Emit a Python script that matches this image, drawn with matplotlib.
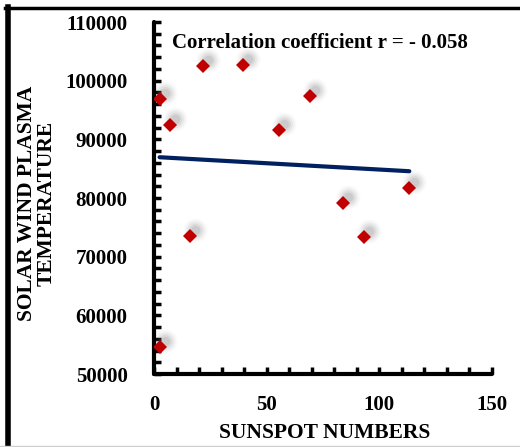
import numpy as np
import matplotlib.pyplot as plt
from matplotlib import transforms
from matplotlib.lines import Line2D
from matplotlib.ticker import MultipleLocator

# sunspot numbers vs solar wind plasma temperature
sunspot = [2.5, 7.2, 21.6, 39.6, 55.3, 69.4, 113.3, 84.0, 93.3, 16.1, 2.8]
temperature = [96900, 92500, 102560, 102730, 91590, 97330, 81760, 79200, 73350, 73580, 54650]
r_text = "Correlation coefficient r = - 0.058"

plt.rcParams['font.family'] = ['Liberation Serif', 'DejaVu Serif']
plt.rcParams['font.weight'] = 'bold'

fig = plt.figure(figsize=(5.2, 4.47), dpi=100)
ax = fig.add_axes([154 / 520, 73 / 447, 338 / 520, 352 / 447])

x = np.array(sunspot)
y = np.array(temperature)

# soft grey drop shadow behind each marker
shadow = transforms.offset_copy(ax.transData, fig=fig, x=5, y=6, units='dots')
for s, a in zip([300, 220, 150, 90, 45], [0.04, 0.06, 0.09, 0.12, 0.16]):
    ax.scatter(x, y, s=s, marker='o', color='#808080', alpha=a, linewidths=0,
               transform=shadow, zorder=2)

# linear fit over the data range
k, b = np.polyfit(x, y, 1)
xs = np.array([x.min(), x.max()])
ax.plot(xs, k * xs + b, color='#002060', lw=3, solid_capstyle='round', zorder=3)

ax.plot(x, y, 'D', color='#C00000', markersize=7, markeredgewidth=0, zorder=4)

ax.set_xlim(0, 150)
ax.set_ylim(50000, 110000)
ax.xaxis.set_major_locator(MultipleLocator(50))
ax.xaxis.set_minor_locator(MultipleLocator(10))
ax.yaxis.set_major_locator(MultipleLocator(10000))
ax.yaxis.set_minor_locator(MultipleLocator(2000))

for side in ['top', 'right']:
    ax.spines[side].set_visible(False)
for side in ['left', 'bottom']:
    ax.spines[side].set_linewidth(3)
    ax.spines[side].set_capstyle('round')

ax.tick_params(which='both', direction='in', length=5, width=2.5, labelsize=15)
ax.tick_params(axis='y', which='major', pad=19)
ax.tick_params(axis='x', which='major', pad=15)
for lab in ax.get_xticklabels() + ax.get_yticklabels():
    lab.set_fontweight('bold')

ax.text(0.053, 0.94, r_text, transform=ax.transAxes, fontsize=15,
        fontweight='bold', va='center', ha='left')

fig.text(325 / 520, 1 - 433 / 447, "SUNSPOT NUMBERS", fontsize=15.5,
         fontweight='bold', ha='center', va='center')
fig.text(37 / 520, 1 - 203 / 447, "SOLAR WIND PLASMA\nTEMPERATURE", fontsize=15.5,
         fontweight='bold', ha='center', va='center', rotation=90,
         linespacing=0.95)

# outer frame
fig.add_artist(Line2D([5 / 520, 1], [1 - 8 / 447] * 2, color='black', lw=2.5,
                      transform=fig.transFigure))
fig.add_artist(Line2D([7.5 / 520] * 2, [0, 1 - 7 / 447], color='black', lw=4,
                      transform=fig.transFigure))
fig.add_artist(Line2D([0, 1], [1.5 / 447] * 2, color='#d0d0d0', lw=1,
                      transform=fig.transFigure))

fig.savefig('out.png', dpi=100)
